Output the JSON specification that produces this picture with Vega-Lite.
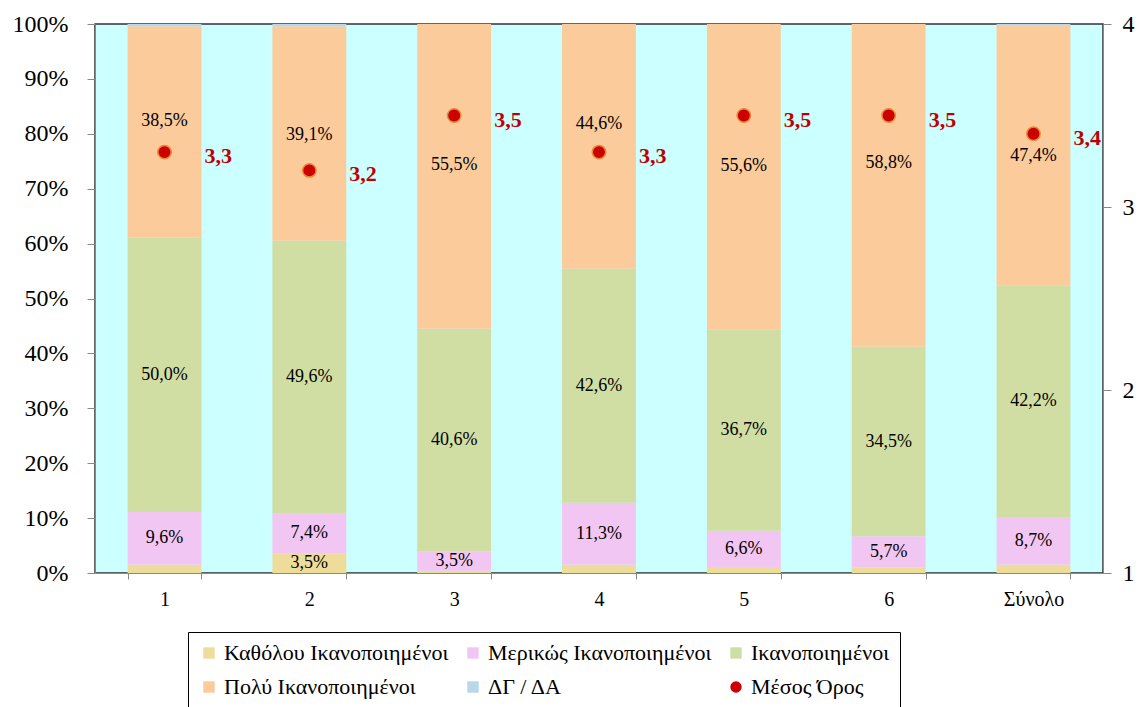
{
  "$schema": "https://vega.github.io/schema/vega-lite/v6.json",
  "autosize": {"type": "none"},
  "width": 1008,
  "height": 549,
  "padding": {"left": 95, "top": 24, "right": 39, "bottom": 134},
  "background": "white",
  "config": {
    "font": "Liberation Serif",
    "view": {"fill": "#CCFFFF", "stroke": "#333333", "strokeWidth": 1.5},
    "axis": {"grid": false, "domainColor": "#888888", "tickColor": "#888888", "labelFont": "Liberation Serif", "labelColor": "#000000"},
    "legend": {
      "orient": "none", "legendX": 93, "legendY": 608, "direction": "horizontal", "columns": 3,
      "labelFont": "Liberation Serif", "labelFontSize": 22, "labelColor": "#000000", "labelLimit": 400, "labelOffset": 4,
      "symbolType": "square", "symbolSize": 130, "symbolStrokeWidth": 0,
      "strokeColor": "#000000", "padding": 10, "rowPadding": 12, "columnPadding": 13
    }
  },
  "datasets": {
    "shares": [
      {"cat": "1", "series": "Καθόλου Ικανοποιημένοι", "value": 1.5},
      {"cat": "1", "series": "Μερικώς Ικανοποιημένοι", "value": 9.6},
      {"cat": "1", "series": "Ικανοποιημένοι", "value": 50.0},
      {"cat": "1", "series": "Πολύ Ικανοποιημένοι", "value": 38.5},
      {"cat": "1", "series": "ΔΓ / ΔΑ", "value": 0.4},
      {"cat": "2", "series": "Καθόλου Ικανοποιημένοι", "value": 3.5},
      {"cat": "2", "series": "Μερικώς Ικανοποιημένοι", "value": 7.4},
      {"cat": "2", "series": "Ικανοποιημένοι", "value": 49.6},
      {"cat": "2", "series": "Πολύ Ικανοποιημένοι", "value": 39.1},
      {"cat": "2", "series": "ΔΓ / ΔΑ", "value": 0.4},
      {"cat": "3", "series": "Καθόλου Ικανοποιημένοι", "value": 0.4},
      {"cat": "3", "series": "Μερικώς Ικανοποιημένοι", "value": 3.5},
      {"cat": "3", "series": "Ικανοποιημένοι", "value": 40.6},
      {"cat": "3", "series": "Πολύ Ικανοποιημένοι", "value": 55.5},
      {"cat": "3", "series": "ΔΓ / ΔΑ", "value": 0.0},
      {"cat": "4", "series": "Καθόλου Ικανοποιημένοι", "value": 1.5},
      {"cat": "4", "series": "Μερικώς Ικανοποιημένοι", "value": 11.3},
      {"cat": "4", "series": "Ικανοποιημένοι", "value": 42.6},
      {"cat": "4", "series": "Πολύ Ικανοποιημένοι", "value": 44.6},
      {"cat": "4", "series": "ΔΓ / ΔΑ", "value": 0.0},
      {"cat": "5", "series": "Καθόλου Ικανοποιημένοι", "value": 1.1},
      {"cat": "5", "series": "Μερικώς Ικανοποιημένοι", "value": 6.6},
      {"cat": "5", "series": "Ικανοποιημένοι", "value": 36.7},
      {"cat": "5", "series": "Πολύ Ικανοποιημένοι", "value": 55.6},
      {"cat": "5", "series": "ΔΓ / ΔΑ", "value": 0.0},
      {"cat": "6", "series": "Καθόλου Ικανοποιημένοι", "value": 1.0},
      {"cat": "6", "series": "Μερικώς Ικανοποιημένοι", "value": 5.7},
      {"cat": "6", "series": "Ικανοποιημένοι", "value": 34.5},
      {"cat": "6", "series": "Πολύ Ικανοποιημένοι", "value": 58.8},
      {"cat": "6", "series": "ΔΓ / ΔΑ", "value": 0.0},
      {"cat": "Σύνολο", "series": "Καθόλου Ικανοποιημένοι", "value": 1.5},
      {"cat": "Σύνολο", "series": "Μερικώς Ικανοποιημένοι", "value": 8.7},
      {"cat": "Σύνολο", "series": "Ικανοποιημένοι", "value": 42.2},
      {"cat": "Σύνολο", "series": "Πολύ Ικανοποιημένοι", "value": 47.4},
      {"cat": "Σύνολο", "series": "ΔΓ / ΔΑ", "value": 0.2}
    ],
    "means": [
      {"cat": "1", "series": "Μέσος Όρος", "mean": 3.3},
      {"cat": "2", "series": "Μέσος Όρος", "mean": 3.2},
      {"cat": "3", "series": "Μέσος Όρος", "mean": 3.5},
      {"cat": "4", "series": "Μέσος Όρος", "mean": 3.3},
      {"cat": "5", "series": "Μέσος Όρος", "mean": 3.5},
      {"cat": "6", "series": "Μέσος Όρος", "mean": 3.5},
      {"cat": "Σύνολο", "series": "Μέσος Όρος", "mean": 3.4}
    ]
  },
  "encoding": {
    "x": {
      "field": "cat", "type": "nominal", "sort": null, "title": null,
      "scale": {"paddingInner": 0.49, "paddingOuter": 0.225},
      "axis": {"labelAngle": 0, "labelFontSize": 20, "tickBand": "extent", "tickSize": 6, "labelPadding": 10, "domainColor": "#888888"}
    }
  },
  "layer": [
    {
      "data": {"name": "shares"},
      "transform": [
        {"calculate": "indexof(['Καθόλου Ικανοποιημένοι','Μερικώς Ικανοποιημένοι','Ικανοποιημένοι','Πολύ Ικανοποιημένοι','ΔΓ / ΔΑ'], datum.series)", "as": "ord"},
        {"stack": "value", "groupby": ["cat"], "sort": [{"field": "ord", "order": "ascending"}], "offset": "normalize", "as": ["y0", "y1"]},
        {"calculate": "(datum.y0 + datum.y1) / 2", "as": "ymid"},
        {"calculate": "replace(format(datum.value / 100, '.1%'), '.', ',')", "as": "lbl"}
      ],
      "layer": [
        {
          "mark": {"type": "bar"},
          "encoding": {
            "y": {
              "field": "y0", "type": "quantitative", "title": null,
              "scale": {"domain": [0, 1], "nice": false},
              "axis": {"orient": "left", "title": null, "values": [0, 0.1, 0.2, 0.3, 0.4, 0.5, 0.6, 0.7, 0.8, 0.9, 1], "format": ".0%", "labelFontSize": 24, "tickSize": 8, "labelPadding": 19}
            },
            "y2": {"field": "y1"},
            "color": {
              "field": "series", "type": "nominal",
              "scale": {
                "domain": ["Καθόλου Ικανοποιημένοι", "Μερικώς Ικανοποιημένοι", "Ικανοποιημένοι", "Πολύ Ικανοποιημένοι", "ΔΓ / ΔΑ", "Μέσος Όρος"],
                "range": ["#EEDC9A", "#F2C6F2", "#D0DEA4", "#FBCB9B", "#B8D8EA", "#CC0000"]
              },
              "legend": {
                "title": null,
                "encode": {"symbols": {"update": {"shape": {"signal": "datum.value === 'Μέσος Όρος' ? 'circle' : 'square'"}}}}
              }
            }
          }
        },
        {
          "transform": [{"filter": "datum.value >= 3 && datum.series !== 'Πολύ Ικανοποιημένοι'"}],
          "mark": {"type": "text", "font": "Liberation Serif", "fontSize": 18, "color": "#000000", "baseline": "middle"},
          "encoding": {
            "y": {"field": "ymid", "type": "quantitative", "title": null, "scale": {"domain": [0, 1], "nice": false}},
            "text": {"field": "lbl"}
          }
        },
        {
          "transform": [{"filter": "datum.series === 'Πολύ Ικανοποιημένοι' && (datum.cat === '1' || datum.cat === '3' || datum.cat === '5')"}],
          "mark": {"type": "text", "font": "Liberation Serif", "fontSize": 18, "color": "#000000", "baseline": "middle", "dy": -11},
          "encoding": {
            "y": {"field": "ymid", "type": "quantitative", "title": null, "scale": {"domain": [0, 1], "nice": false}},
            "text": {"field": "lbl"}
          }
        },
        {
          "transform": [{"filter": "datum.series === 'Πολύ Ικανοποιημένοι' && (datum.cat === '2' || datum.cat === 'Σύνολο')"}],
          "mark": {"type": "text", "font": "Liberation Serif", "fontSize": 18, "color": "#000000", "baseline": "middle", "dy": 1},
          "encoding": {
            "y": {"field": "ymid", "type": "quantitative", "title": null, "scale": {"domain": [0, 1], "nice": false}},
            "text": {"field": "lbl"}
          }
        },
        {
          "transform": [{"filter": "datum.series === 'Πολύ Ικανοποιημένοι' && (datum.cat === '4' || datum.cat === '6')"}],
          "mark": {"type": "text", "font": "Liberation Serif", "fontSize": 18, "color": "#000000", "baseline": "middle", "dy": -22},
          "encoding": {
            "y": {"field": "ymid", "type": "quantitative", "title": null, "scale": {"domain": [0, 1], "nice": false}},
            "text": {"field": "lbl"}
          }
        }
      ]
    },
    {
      "data": {"name": "means"},
      "transform": [{"calculate": "replace(format(datum.mean, '.1f'), '.', ',')", "as": "mlbl"}],
      "layer": [
        {
          "mark": {"type": "point", "filled": true, "size": 180, "opacity": 1, "stroke": "#E8893A", "strokeWidth": 1.5},
          "encoding": {
            "y": {
              "field": "mean", "type": "quantitative", "title": null,
              "scale": {"domain": [1, 4], "nice": false, "zero": false},
              "axis": {"orient": "right", "title": null, "values": [1, 2, 3, 4], "format": "d", "labelFontSize": 24, "tickSize": 8, "labelPadding": 11}
            },
            "color": {"field": "series", "type": "nominal"}
          }
        },
        {
          "mark": {"type": "text", "font": "Liberation Serif", "fontSize": 22, "fontWeight": "bold", "color": "#C00000", "align": "left", "baseline": "middle", "dx": 40, "dy": 4},
          "encoding": {
            "y": {"field": "mean", "type": "quantitative", "title": null, "scale": {"domain": [1, 4], "nice": false, "zero": false}},
            "text": {"field": "mlbl"}
          }
        }
      ]
    }
  ],
  "resolve": {"scale": {"y": "independent"}, "axis": {"y": "independent"}}
}
